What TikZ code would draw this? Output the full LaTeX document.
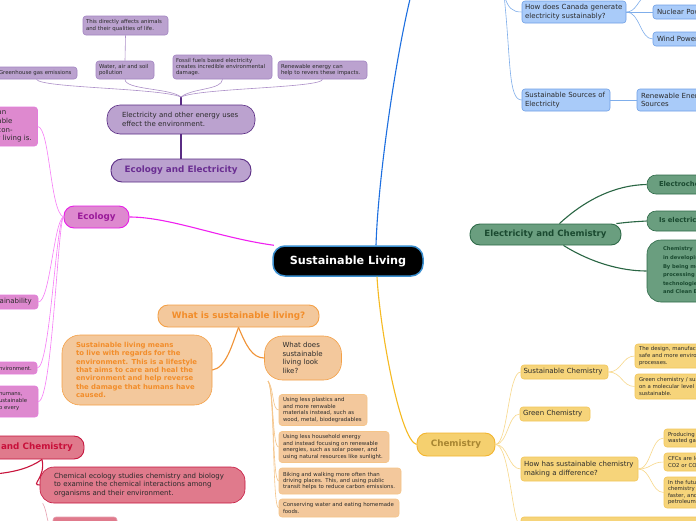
\documentclass[tikz,border=0pt]{standalone}
\usepackage{fontspec}
\setmainfont{DejaVu Sans}
\definecolor{cDark}{HTML}{2B2B2B}
\definecolor{cBlueF}{HTML}{A9CBF9}
\definecolor{cBlueB}{HTML}{6FA0E6}
\definecolor{cBlueE}{HTML}{7FAEEB}
\definecolor{cBlueMain}{HTML}{1D6FE0}
\definecolor{cCentB}{HTML}{3A8FD0}
\definecolor{cGreenF}{HTML}{6A9E7F}
\definecolor{cGreenB}{HTML}{2E6A48}
\definecolor{cGreenT}{HTML}{1A4A30}
\definecolor{cGreenE}{HTML}{2A6644}
\definecolor{cYelF}{HTML}{F5D06F}
\definecolor{cYelB}{HTML}{F3B52E}
\definecolor{cYelT}{HTML}{A88632}
\definecolor{cYelF2}{HTML}{F6D47A}
\definecolor{cYelB2}{HTML}{F3C65A}
\definecolor{cYelE}{HTML}{F8D88A}
\definecolor{cYelMain}{HTML}{F6BA22}
\definecolor{cPurF}{HTML}{BBA2CF}
\definecolor{cPurB}{HTML}{5A2C84}
\definecolor{cPurT}{HTML}{6A2E92}
\definecolor{cPurB2}{HTML}{A285C2}
\definecolor{cPurE}{HTML}{AD90C8}
\definecolor{cPinkF}{HTML}{DE89CF}
\definecolor{cPinkB}{HTML}{E81CE8}
\definecolor{cPinkT}{HTML}{9A1A9A}
\definecolor{cPinkB2}{HTML}{E47CDD}
\definecolor{cPinkE}{HTML}{F77CF7}
\definecolor{cMag}{HTML}{F020F0}
\definecolor{cOrF}{HTML}{F3C89C}
\definecolor{cOrB}{HTML}{F4A046}
\definecolor{cOrT}{HTML}{F28D2A}
\definecolor{cOrB2}{HTML}{F5C488}
\definecolor{cOrE}{HTML}{F09235}
\definecolor{cOrE2}{HTML}{F5C58A}
\definecolor{cRedF}{HTML}{E07A8C}
\definecolor{cRedB}{HTML}{C6163F}
\definecolor{cRedT}{HTML}{C8103A}
\definecolor{cRedE}{HTML}{C8143C}
\definecolor{cRedE2}{HTML}{E6A0B0}
\newcommand\fsTitle{\fontsize{8.8}{10}\selectfont\bfseries}
\newcommand\fsMed{\fontsize{7}{8.6}\selectfont}
\newcommand\fsSmall{\fontsize{5.4}{6.3}\selectfont}
\tikzset{
  base/.style={inner ysep=0pt, inner xsep=4pt, align=left, line width=0.6pt, text=cDark,
    execute at begin node={\hyphenpenalty=10000\exhyphenpenalty=10000}},
  title/.style={inner sep=0pt, align=center, font=\fsTitle, line width=0.9pt},
  med/.style={base, font=\fsMed},
  sml/.style={base, font=\fsSmall},
  bnode/.style={med, fill=cBlueF, draw=cBlueB, rounded corners=3pt},
  ynode/.style={med, fill=cYelF2, draw=cYelB2, rounded corners=3pt},
  ysml/.style={sml, fill=cYelF2, draw=cYelB2, rounded corners=3pt, font=\fontsize{5.4}{6.6}\selectfont},
  psml/.style={sml, fill=cPurF, draw=cPurB2, rounded corners=3pt, font=\fontsize{5.4}{6.2}\selectfont},
  pknode/.style={base, fill=cPinkF, draw=cPinkB2, rounded corners=3pt},
  osml/.style={sml, fill=cOrF, draw=cOrB2, rounded corners=3pt, font=\fontsize{5.4}{6.4}\selectfont},
  medge/.style={line width=1.1pt},
  tedge/.style={line width=0.6pt},
}
\begin{document}
\begin{tikzpicture}[x=1pt,y=-1pt]
\fill[white] (0,0) rectangle (696,520);
\useasboundingbox (0,0) rectangle (696,520);

% ---------- central ----------
\node[fill=black, draw=cCentB, line width=1.5pt, rounded corners=12pt, text=white,
      font=\fontsize{11.2}{13}\selectfont\bfseries, minimum width=150pt, minimum height=30pt, inner sep=0pt]
      (central) at (348,261) {Sustainable Living};

% ---------- blue branch ----------
\coordinate (blueTop) at (411,-5);
\coordinate (bTop) at (504,-5);
\coordinate (cTop) at (645,-4);
\node[bnode, inner xsep=3pt, text width=98pt, minimum height=22pt] (canada) at (574,12)
  {How does Canada generate\\electricity sustainably?};
\node[bnode, text width=59pt, minimum height=14pt] (nuclear) at (686.5,12) {Nuclear Power};
\node[bnode, text width=59pt, minimum height=14pt] (wind) at (686.5,39) {Wind Power};
\node[bnode, inner xsep=3pt, text width=82pt, minimum height=22pt] (susSrc) at (566,100)
  {Sustainable Sources of\\Electricity};
\node[bnode, text width=75pt, minimum height=22pt] (renew) at (678.5,100) {Renewable Energy\\Sources};

\draw[medge, cBlueMain] ([xshift=28pt]central.north) .. controls (378,180) and (395,60) .. (blueTop);
\draw[tedge, cBlueE] (bTop) .. controls (508,8) and (512,12) .. (canada.west);
\draw[tedge, cBlueE] (bTop) .. controls (511,60) and (508,100) .. (susSrc.west);
\draw[tedge, cBlueE] (canada.east) .. controls (636,12) and (638,0) .. (cTop);
\draw[tedge, cBlueE] (canada.east) -- (nuclear.west);
\draw[tedge, cBlueE] (canada.east) .. controls (640,12) and (640,39) .. (wind.west);
\draw[tedge, cBlueE] (susSrc.east) -- (renew.west);

% ---------- green branch ----------
\node[title, fill=cGreenF, draw=cGreenB, text=cGreenT, rounded corners=10pt,
      font=\fontsize{8.6}{10}\selectfont\bfseries, minimum width=151pt, minimum height=21pt]
      (ec) at (545.5,234.5) {Electricity and Chemistry};
\node[base, fill=cGreenF, draw=cGreenB, text=cGreenT, rounded corners=9pt, inner xsep=12pt,
      font=\fontsize{6.8}{8}\selectfont\bfseries, text width=59pt, minimum height=19pt]
      (electroch) at (688.5,184.5) {Electrochemistry};
\node[base, fill=cGreenF, draw=cGreenB, text=cGreenT, rounded corners=9pt, inner xsep=12pt,
      font=\fontsize{6.8}{8}\selectfont\bfseries, text width=59pt, minimum height=20pt]
      (isel) at (688.5,221) {Is electricity};
\node[base, fill=cGreenF, draw=cGreenB, text=cGreenT, rounded corners=14pt, inner xsep=16pt,
      font=\fontsize{5.2}{8.6}\selectfont\bfseries, text width=81pt, minimum height=62pt]
      (chemBig) at (703.5,271) {Chemistry\\in developing\\By being more\\processing\\technologies\\and Clean Energy};
\draw[medge, cGreenE] ([xshift=14pt]ec.north) .. controls (585,200) and (615,185) .. (electroch.west);
\draw[medge, cGreenE] ([xshift=-5pt]ec.north east) .. controls (630,222) .. (isel.west);
\draw[medge, cGreenE] ([xshift=18pt]ec.south) .. controls (590,262) and (620,271) .. (chemBig.west);

% ---------- yellow branch ----------
\node[title, fill=cYelF, draw=cYelB, text=cYelT, rounded corners=10pt,
      minimum width=78pt, minimum height=23pt] (chem) at (456,444.5) {Chemistry};
\node[ynode, inner xsep=2.5pt, text width=82pt, minimum height=14pt] (susChem) at (564.5,372) {Sustainable Chemistry};
\node[ynode, inner xsep=3pt, text width=64pt, minimum height=14pt] (greenChem) at (555,414) {Green Chemistry};
\node[ynode, inner xsep=3pt, text width=111pt, minimum height=24pt] (howHas) at (579.5,469)
  {How has sustainable chemistry\\making a difference?};
\node[ynode, text width=191pt, minimum height=18pt] (bottomY) at (620.5,526) {};
\node[ysml, text width=100pt, minimum height=24pt] (design) at (689,356)
  {The design, manufacture\\safe and more environmental\\processes.};
\node[ysml, text width=100pt, minimum height=25pt] (greenSu) at (689,386.5)
  {Green chemistry / sustainable\\on a molecular level\\sustainable.};
\node[ysml, text width=70pt, minimum height=18pt] (producing) at (703,438) {Producing less\\wasted gases};
\node[ysml, text width=70pt, minimum height=18pt] (cfcs) at (703,462) {CFCs are less\\CO2 or CO2};
\node[ysml, text width=70pt, minimum height=31pt] (future) at (703,492.5) {In the future\\chemistry\\faster, and\\petroleum};

\draw[medge, cYelMain] ([xshift=29pt]central.south) .. controls (380,330) and (400,440) .. (chem.west);
\draw[tedge, cYelE] (chem.east) .. controls (508,444) and (508,372) .. (susChem.west);
\draw[tedge, cYelE] (chem.east) .. controls (508,444) and (508,414) .. (greenChem.west);
\draw[tedge, cYelE] (chem.east) .. controls (508,444) and (508,469) .. (howHas.west);
\draw[tedge, cYelE] (chem.east) .. controls (510,444) and (512,526) .. (bottomY.west);
\draw[tedge, cYelE] (susChem.east) .. controls (622,372) and (622,356) .. (design.west);
\draw[tedge, cYelE] (susChem.east) .. controls (622,372) and (622,386.5) .. (greenSu.west);
\draw[tedge, cYelE] (howHas.east) .. controls (651,469) and (651,438) .. (producing.west);
\draw[tedge, cYelE] (howHas.east) .. controls (651,469) and (651,462) .. (cfcs.west);
\draw[tedge, cYelE] (howHas.east) .. controls (651,469) and (651,492.5) .. (future.west);

% ---------- purple branch ----------
\node[title, fill=cPurF, draw=cPurB, text=cPurT, rounded corners=11pt,
      minimum width=140pt, minimum height=23pt] (ee) at (181,170.5) {Ecology and Electricity};
\node[med, fill=cPurF, draw=cPurB, rounded corners=13pt, inner xsep=15pt, text width=118pt,
      minimum height=29pt] (effect) at (181,119.5) {Electricity and other energy uses\\effect the environment.};
\coordinate (pj) at (181,97);
\node[psml, inner xsep=3pt, text width=79pt, minimum height=19pt] (directly) at (125.5,25.5)
  {This directly affects animals\\and their qualities of life.};
\node[psml, inner xsep=3pt, text width=52pt, minimum height=18pt] (water) at (125,70)
  {Water, air and soil\\pollution};
\node[psml, inner xsep=3pt, text width=75pt, minimum height=12pt] (ghg) at (36.5,73)
  {Greenhouse gas emissions};
\node[psml, inner xsep=3pt, text width=93pt, minimum height=24pt] (fossil) at (222.5,67)
  {Fossil fuels based electricity\\creates incredible environmental\\damage.};
\node[psml, inner xsep=3pt, text width=83pt, minimum height=18pt] (revers) at (322.5,70)
  {Renewable energy can\\help to revers these impacts.};
\draw[medge, cPurB] (effect.south) -- (ee.north);
\draw[medge, cPurB] (effect.north) -- (pj);
\draw[tedge, cPurE] (ghg.south) .. controls (40,88) and (160,88) .. (pj);
\draw[tedge, cPurE] (water.south) .. controls (125,90) and (170,88) .. (pj);
\draw[tedge, cPurE] (fossil.south) .. controls (222,90) and (192,88) .. (pj);
\draw[tedge, cPurE] (revers.south) .. controls (322,88) and (200,88) .. (pj);
\draw[tedge, cPurE] (water.north) -- (directly.south);

% ---------- pink branch ----------
\node[title, fill=cPinkF, draw=cPinkB, text=cPinkT, rounded corners=10pt,
      minimum width=65pt, minimum height=22pt] (ecology) at (96.5,217) {Ecology};
\node[pknode, font=\fsMed, inner xsep=3pt, text width=37pt, minimum height=39pt] (pinkTop) at (16,126.5)
  {an\\able\\con-\\r living is.};
\node[pknode, font=\fsMed, inner xsep=3pt, text width=38pt, minimum height=14pt] (sustain) at (16,302) {tainability};
\node[pknode, font=\fsSmall, text width=34pt, minimum height=12pt] (env) at (16,368) {nvironment.};
\node[pknode, font=\fontsize{5.4}{7}\selectfont, text width=35pt, minimum height=31pt] (humans) at (16.5,401.5)
  {humans,\\ustainable\\o every};
\draw[medge, cMag] (central.168) .. controls (220,238) and (170,217) .. (ecology.east);
\draw[tedge, cPinkE] (ecology.west) .. controls (50,212) and (50,128) .. (pinkTop.east);
\draw[tedge, cPinkE] (ecology.west) .. controls (54,220) and (50,302) .. (sustain.east);
\draw[tedge, cPinkE] (ecology.west) .. controls (56,220) and (50,368) .. (env.east);
\draw[tedge, cPinkE] (ecology.west) .. controls (58,220) and (52,402) .. (humans.east);

% ---------- orange branch ----------
\node[title, fill=cOrF, draw=cOrB, text=cOrT, rounded corners=10pt,
      minimum width=161pt, minimum height=22pt] (whatis) at (238.5,316) {What is sustainable living?};
\node[base, fill=cOrF, draw=cOrB, text=cOrT, rounded corners=18pt, inner xsep=14pt,
      font=\fontsize{6.9}{8.4}\selectfont\bfseries, text width=122pt, minimum height=70pt]
      (slm) at (137,370) {Sustainable living means\\to live with regards for the\\environment. This is a lifestyle\\that aims to care and heal the\\environment and help reverse\\the damage that humans have\\caused.};
\node[med, fill=cOrF, draw=cOrB, rounded corners=18pt, inner xsep=18pt, text width=41pt,
      minimum height=44pt] (wd) at (303,358) {What does\\sustainable\\living look\\like?};
\coordinate (wdC) at (268,381);
\node[osml, text width=80pt, minimum height=31pt] (c1) at (323,410)
  {Using less plastics and\\and more renwable\\materials instead, such as\\wood, metal, biodegradables};
\node[osml, text width=102pt, minimum height=31pt] (c2) at (334,447)
  {Using less household energy\\and instead focusing on renewable\\energies, such as solar power, and\\using natural resources like sunlight.};
\node[osml, text width=114pt, minimum height=26pt] (c3) at (340,481)
  {Biking and walking more often than\\driving places. This, and using public\\transit helps to reduce carbon emissions.};
\node[osml, text width=112pt, minimum height=18pt] (c4) at (339,508)
  {Conserving water and eating homemade\\foods.};
\draw[medge, cOrE] (whatis.south) .. controls (232,345) and (226,368) .. (slm.east);
\draw[medge, cOrE] (whatis.south) .. controls (246,345) and (252,358) .. (wd.west);
\draw[tedge, cOrE2] (wdC) .. controls (274,388) and (272,410) .. (c1.west);
\draw[tedge, cOrE2] (wdC) .. controls (274,390) and (272,447) .. (c2.west);
\draw[tedge, cOrE2] (wdC) .. controls (275,390) and (272,481) .. (c3.west);
\draw[tedge, cOrE2] (wdC) .. controls (275,390) and (272,508) .. (c4.west);

% ---------- red branch ----------
\coordinate (redL) at (-5,474);
\node[title, fill=cRedF, draw=cRedB, text=cRedT, rounded corners=10pt,
      minimum width=94pt, minimum height=23pt] (ecoChem) at (37,447.5) {and Chemistry};
\node[med, fill=cRedF, draw=cRedB, rounded corners=14pt, inner xsep=14pt, text width=177pt,
      minimum height=36pt] (chemEco) at (142.5,485)
  {Chemical ecology studies chemistry and biology\\to examine the chemical interactions among\\organisms and their environment.};
\node[base, fill=cRedF, draw=cRedE2, rounded corners=3pt, minimum width=64pt, minimum height=18pt]
  (redB) at (85,526) {};
\draw[medge, cRedE] ([xshift=5pt]ecoChem.south) .. controls (30,468) and (15,472) .. (redL);
\draw[medge, cRedE] ([xshift=5pt]ecoChem.south) .. controls (46,478) and (30,485) .. (chemEco.west);
\draw[tedge, cRedE2] ([xshift=3pt]chemEco.south west) .. controls (48,512) and (46,526) .. (redB.west);
\end{tikzpicture}
\end{document}
